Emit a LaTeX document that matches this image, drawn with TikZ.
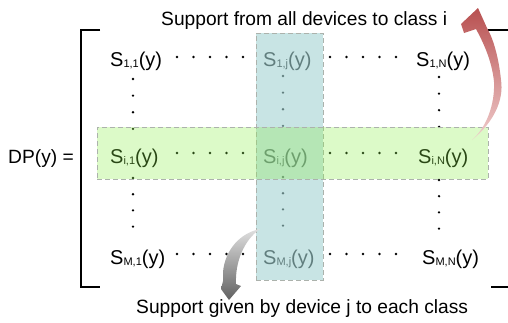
\documentclass[tikz,border=0pt]{standalone}
\usepackage{fontspec}
\setmainfont{Liberation Sans}
\usetikzlibrary{positioning}

\definecolor{coltint}{RGB}{163,210,210}
\definecolor{rowtint}{RGB}{138,238,72}
\definecolor{bandline}{RGB}{172,178,172}
\definecolor{redtop}{RGB}{184,80,80}
\definecolor{redtail}{RGB}{240,205,205}

\newcommand{\sent}[1]{S\raisebox{-1pt}{\fontsize{11}{11}\selectfont #1}(y)}

\begin{document}
\begin{tikzpicture}[x=1pt, y=-1pt,
  entry/.style = {anchor=base west, inner sep=0pt, font=\fontsize{20}{24}\selectfont},
  lbl/.style = {anchor=base west, inner sep=0pt, font=\fontsize{19.2}{23}\selectfont},
  band/.style = {draw=bandline, dash pattern=on 5pt off 3pt, line width=0.8pt, inner sep=0pt},
  bracket/.style = {line width=2pt}]

\useasboundingbox (0,0) rectangle (508,322);

% matrix entries
\node[entry] (s11) at (110,66) {\sent{1,1}};
\node[entry] (s1j) at (263,66) {\sent{1,j}};
\node[entry] (s1N) at (416,66) {\sent{1,N}};
\node[entry] (si1) at (110,163) {\sent{i,1}};
\node[entry] (sij) at (263,163) {\sent{i,j}};
\node[entry] (siN) at (418,163) {\sent{i,N}};
\node[entry] (sM1) at (110,264) {\sent{M,1}};
\node[entry] (sMj) at (263,264) {\sent{M,j}};
\node[entry] (sMN) at (422,264) {\sent{M,N}};

\node[lbl] (dp) [base left=36pt of si1] {DP(y) =};

% dots between the entries
\foreach \y in {57,153,254}
  \foreach \k in {0,...,4} {
    \fill (177+16.5*\k,\y) circle (1.3pt);
    \fill (330+16.5*\k,\y) circle (1.3pt);
  }
\foreach \x/\ya/\yb in {133/79/178, 283/76/177, 439/77/180}
  \foreach \k in {0,...,3} {
    \fill (\x,\ya+16.6*\k) circle (1.3pt);
    \fill (\x,\yb+16.2*\k) circle (1.3pt);
  }

% column j and row i
\node[band, fill=coltint, fill opacity=0.6, minimum width=67pt, minimum height=247pt] (colj) at (289.5,156.5) {};
\node[band, fill=rowtint, fill opacity=0.3, minimum width=391pt, minimum height=52pt] (rowi) at (292.5,153) {};

% brackets
\draw[bracket] (100,30) -- (81,30) -- (81,287) -- (100,287);
\begin{scope}
  \clip (0,0) rectangle (508,322);
  \draw[bracket] (488,30) -- (512,30) -- (512,287) -- (491,287);
\end{scope}

\node[lbl] (rowlbl) at (161,25) {Support from all devices to class i};
\node[lbl] (collbl) at (136,313) {Support given by device j to each class};

% curved arrows
\shade[top color=redtop, bottom color=redtail]
  (472,140) .. controls (494,122) and (504,100) .. (501,80)
  .. controls (499,60) and (494,40) .. (487,28)
  -- (478,8) -- (461,24) -- (464,33) -- (476,29)
  .. controls (482,40) and (492,60) .. (494,82)
  .. controls (495,105) and (486,128) .. (472,140) -- cycle;
\shade[top color=gray!25, bottom color=black!62]
  (260,229) .. controls (240,233) and (225,250) .. (223,272)
  -- (223,281) -- (221,289) -- (229,300) -- (241,286) -- (236,284)
  .. controls (235,262) and (244,240) .. (260,229) -- cycle;

\end{tikzpicture}
\end{document}
